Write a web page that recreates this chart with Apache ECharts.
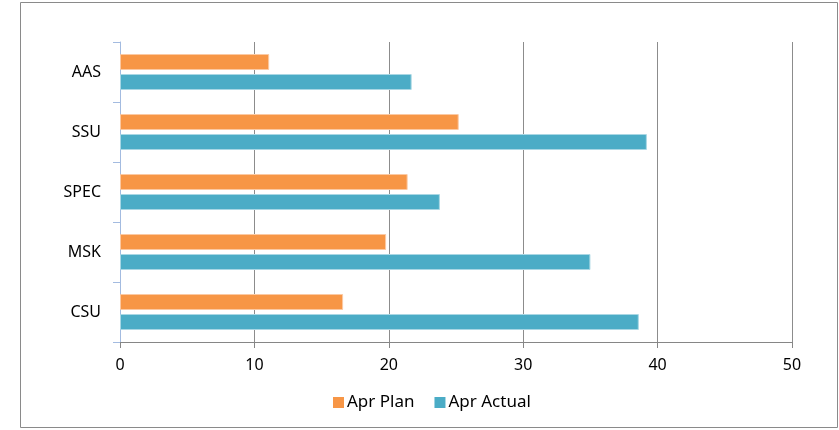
<!DOCTYPE html>
<html>
<head>
<meta charset="utf-8">
<script src="https://cdn.jsdelivr.net/npm/echarts@6/dist/echarts.min.js"></script>
<style>
html,body{margin:0;padding:0;background:#fff;}
#c{width:839px;height:430px;}
</style>
</head>
<body>
<div id="c"></div>
<script>
const categories = ['CSU', 'MSK', 'SPEC', 'SSU', 'AAS'];
const planValues = [16.6, 19.8, 21.4, 25.2, 11.1];
const actualValues = [38.6, 35.0, 23.8, 39.2, 21.7];
const seriesNames = ['Apr Plan', 'Apr Actual'];
const xMin = 0, xMax = 50, xInterval = 10;

const chart = echarts.init(document.getElementById('c'), null, {renderer: 'canvas'});
const font = '"Noto Sans", sans-serif';
chart.setOption({
  animation: false,
  backgroundColor: '#fff',
  graphic: [{
    type: 'rect',
    shape: {x: 20.5, y: 2.5, width: 817, height: 425},
    style: {fill: 'none', stroke: '#8a8a8a', lineWidth: 1},
    silent: true, z: -1
  }],
  grid: {left: 120, right: 47, top: 42, bottom: 88, containLabel: false},
  legend: {
    data: seriesNames,
    left: 333, top: 394, padding: 0,
    itemWidth: 11, itemHeight: 11, itemGap: 20,
    icon: 'rect',
    itemStyle: {borderWidth: 0},
    textStyle: {fontFamily: font, fontSize: 17, color: '#000', padding: [0, 0, 0, -2]}
  },
  xAxis: {
    type: 'value', min: xMin, max: xMax, interval: xInterval,
    axisLine: {show: true, lineStyle: {color: '#868686', width: 1}},
    axisTick: {show: true, length: 6, lineStyle: {color: '#868686'}},
    axisLabel: {fontFamily: font, fontSize: 16, color: '#000', margin: 15},
    splitLine: {show: true, lineStyle: {color: '#8c8c8c', width: 1}}
  },
  yAxis: {
    type: 'category', data: categories,
    axisLine: {show: true, lineStyle: {color: '#a3bbe0', width: 1}},
    axisTick: {show: true, length: 7, lineStyle: {color: '#a3bbe0'}},
    axisLabel: {fontFamily: font, fontSize: 16, color: '#000', margin: 19}
  },
  series: [
    {
      name: seriesNames[0], type: 'bar', data: planValues,
      barGap: '25%', barCategoryGap: '40%',
      itemStyle: {color: '#F79646', borderColor: '#fbc9a3', borderWidth: 1}
    },
    {
      name: seriesNames[1], type: 'bar', data: actualValues,
      barGap: '25%', barCategoryGap: '40%',
      itemStyle: {color: '#4BACC6', borderColor: '#a9d7e4', borderWidth: 1}
    }
  ]
});
</script>
</body>
</html>
